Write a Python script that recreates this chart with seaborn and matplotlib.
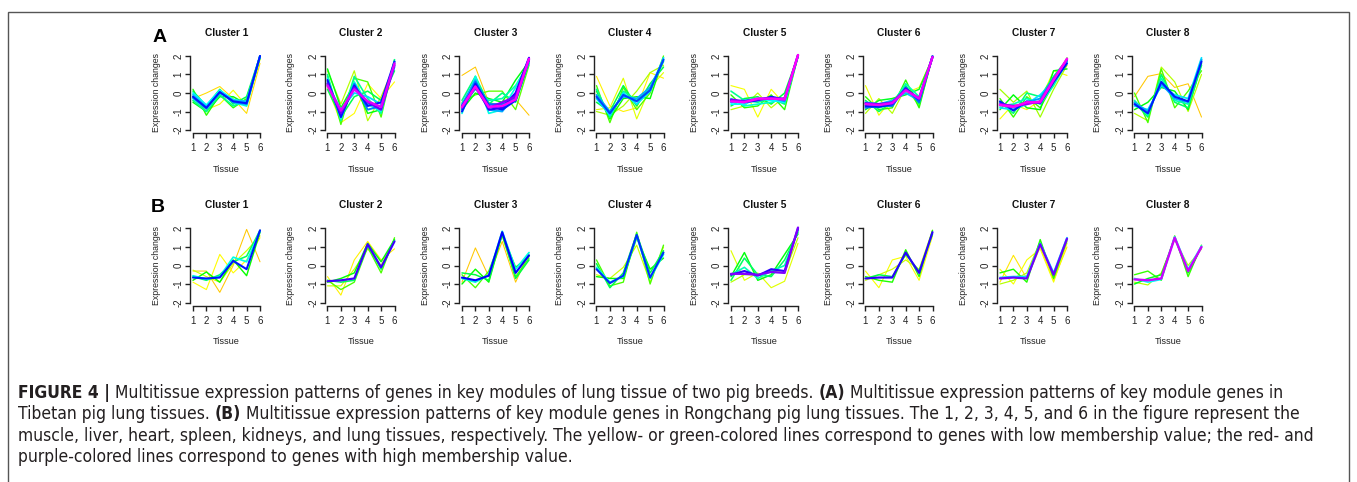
import numpy as np
import matplotlib
matplotlib.use("Agg")
import matplotlib.pyplot as plt
import seaborn as sns
from matplotlib import font_manager
from matplotlib.colors import hsv_to_rgb
from matplotlib.patches import Rectangle

W, H = 1357, 482

tissues = [1, 2, 3, 4, 5, 6]
cluster_names = ["Cluster %d" % i for i in range(1, 9)]
y_ticks = [-2, -1, 0, 1, 2]

# --- (A) Tibetan pig: one profile per gene, membership value per gene ---
A1 = [[-0.3, 0.0, 0.35, -0.3, -1.1, 1.6], [-0.4, -0.9, -0.6, 0.15, -0.7, 1.8],
      [0.2, -1.2, -0.1, -0.8, -0.3, 1.9], [-0.5, -1.0, -0.2, -0.2, -0.6, 1.9],
      [0.1, -0.7, 0.2, -0.6, -0.2, 2.0], [-0.4, -1.0, -0.1, -0.7, -0.4, 1.95],
      [-0.3, -0.85, 0.1, -0.5, -0.7, 2.0], [0.0, -0.65, 0.15, -0.35, -0.5, 2.0],
      [-0.1, -0.75, 0.0, -0.4, -0.45, 2.0], [-0.25, -0.85, 0.05, -0.5, -0.6, 2.0],
      [-0.2, -0.8, 0.05, -0.45, -0.55, 2.0]]
A1_m = [0.02, 0.06, 0.25, 0.3, 0.36, 0.42, 0.5, 0.53, 0.58, 0.62, 0.74]

A2 = [[0.3, -1.6, -1.1, 0.5, -0.3, 0.6], [1.2, -0.6, 1.2, -1.5, -0.2, 1.5],
      [0.9, -1.7, 0.8, 0.6, -1.3, 1.8], [1.3, -0.8, 0.5, -1.1, -0.9, 1.7],
      [0.2, -1.3, -0.2, 0.1, -0.4, 1.2], [1.0, -1.5, 0.9, -0.3, -1.1, 1.8],
      [0.8, -1.4, 0.6, -0.6, -1.0, 1.7], [0.5, -0.9, 0.0, -0.2, -0.6, 1.4],
      [0.6, -1.2, 0.5, -0.9, -0.7, 1.6], [0.7, -1.3, 0.4, -0.7, -0.5, 1.7],
      [0.5, -1.1, 0.3, -0.5, -0.9, 1.5], [0.4, -0.95, 0.2, -0.45, -0.75, 1.6]]
A2_m = [0.05, 0.12, 0.22, 0.3, 0.36, 0.42, 0.5, 0.56, 0.64, 0.74, 0.86, 0.97]

A3 = [[0.95, 1.4, -0.5, -0.7, -0.35, -1.2], [-0.5, -0.1, 0.1, 0.1, -0.9, 1.5],
      [-0.9, 0.0, -0.3, -0.5, 0.7, 1.7], [-0.4, 0.9, -0.6, 0.0, -0.5, 1.6],
      [-0.7, 0.2, -0.4, -0.3, 0.4, 1.6], [-1.1, 0.9, -1.1, -0.9, 0.3, 1.7],
      [-0.6, 0.7, -0.9, -1.0, -0.1, 1.9], [-0.9, 0.6, -0.6, -0.6, -0.3, 1.8],
      [-1.0, 0.5, -0.7, -0.9, -0.4, 1.8], [-0.7, 0.4, -0.9, -0.8, 0.0, 1.9],
      [-0.8, 0.3, -0.8, -0.5, -0.2, 1.8], [-0.75, 0.35, -0.75, -0.7, -0.35, 1.85]]
A3_m = [0.0, 0.2, 0.3, 0.4, 0.45, 0.5, 0.6, 0.66, 0.74, 0.8, 0.88, 1.0]

A4 = [[0.9, -0.7, -1.0, -0.8, 1.1, 0.8], [-0.9, -0.8, 0.8, -1.4, 0.3, 1.1],
      [-1.0, -1.2, -0.7, 0.1, 1.1, 1.5], [0.4, -1.6, 0.3, -0.9, 0.0, 2.0],
      [0.1, -1.4, -0.3, -0.2, -0.3, 1.9], [-0.5, -1.0, 0.4, -0.7, 0.5, 1.4],
      [0.2, -1.3, 0.1, -0.4, 0.2, 1.7], [-0.3, -1.2, 0.0, -0.6, 0.1, 1.9],
      [-0.1, -1.0, -0.2, -0.3, 0.3, 1.8], [-0.2, -1.1, -0.1, -0.45, 0.15, 1.8]]
A4_m = [0.04, 0.08, 0.13, 0.22, 0.28, 0.35, 0.42, 0.55, 0.6, 0.7]

A5 = [[0.4, 0.2, -1.3, 0.2, -0.6, 1.9], [-0.9, -0.7, 0.0, -0.8, -0.2, 2.0],
      [-0.1, -0.8, -0.7, -0.1, -0.9, 2.0], [-0.7, -0.3, -0.2, -0.6, 0.0, 2.0],
      [0.1, -0.4, -0.5, -0.3, -0.6, 2.0], [-0.3, -0.7, -0.6, -0.5, -0.3, 2.0],
      [-0.6, -0.6, -0.3, -0.4, -0.5, 2.0], [-0.5, -0.4, -0.3, -0.25, -0.45, 2.0],
      [-0.4, -0.5, -0.4, -0.2, -0.35, 2.05], [-0.35, -0.45, -0.35, -0.3, -0.3, 2.05],
      [-0.45, -0.5, -0.3, -0.3, -0.35, 2.05]]
A5_m = [0.06, 0.12, 0.25, 0.35, 0.42, 0.48, 0.53, 0.62, 0.74, 0.88, 1.0]

A6 = [[0.4, -1.2, -0.3, 0.0, 0.3, 1.9], [-1.1, -0.3, -1.1, 0.3, -0.7, 1.9],
      [-0.2, -0.9, -0.8, 0.7, -0.8, 2.0], [-0.9, -0.4, -0.3, -0.1, 0.2, 1.9],
      [-0.4, -1.0, -0.5, 0.4, -0.6, 1.95], [-0.7, -0.8, -0.6, 0.5, -0.2, 2.0],
      [-0.5, -0.6, -0.4, 0.0, -0.4, 1.95], [-0.8, -0.7, -0.7, 0.3, -0.5, 2.0],
      [-0.7, -0.75, -0.6, 0.25, -0.35, 1.95], [-0.55, -0.6, -0.5, 0.2, -0.3, 1.95],
      [-0.6, -0.65, -0.55, 0.15, -0.3, 1.95]]
A6_m = [0.07, 0.12, 0.25, 0.32, 0.38, 0.45, 0.58, 0.66, 0.74, 0.86, 0.98]

A7 = [[-1.4, -0.6, -0.9, -0.4, 1.2, 0.95], [0.2, -0.5, 0.1, -1.3, 0.2, 1.5],
      [-0.3, -1.3, -0.2, -0.8, 0.5, 1.9], [-0.9, -0.1, -0.8, -0.9, 1.2, 1.3],
      [-0.5, -1.1, 0.0, -0.2, 0.9, 1.8], [-0.7, -0.6, -0.3, -0.6, 0.4, 1.7],
      [-0.8, -0.9, -0.6, -0.1, 0.6, 1.7], [-0.5, -0.8, -0.5, -0.3, 0.8, 1.75],
      [-0.45, -0.95, -0.45, -0.55, 0.6, 1.6], [-0.6, -0.7, -0.6, -0.45, 0.75, 1.8],
      [-0.65, -0.75, -0.5, -0.5, 0.7, 1.85]]
A7_m = [0.06, 0.14, 0.24, 0.3, 0.4, 0.46, 0.55, 0.62, 0.74, 0.9, 1.0]

A8 = [[-0.2, 0.9, 1.05, 0.3, 0.5, -1.3], [-1.1, -1.5, 1.4, 0.6, -1.0, 1.0],
      [0.0, -1.6, 1.3, -0.8, 0.1, 1.2], [-0.9, -0.5, 0.3, 0.1, -0.9, 1.6],
      [-0.5, -1.3, 1.0, -0.5, -0.8, 1.5], [-0.4, -1.2, 0.8, -0.4, -0.6, 1.8],
      [-0.7, -0.9, 0.4, -0.1, -0.3, 1.9], [-0.5, -1.0, 0.5, -0.3, -0.5, 1.8],
      [-0.6, -1.1, 0.6, -0.2, -0.45, 1.7]]
A8_m = [0.0, 0.12, 0.22, 0.3, 0.38, 0.45, 0.55, 0.6, 0.74]

# --- (B) Rongchang pig ---
B1 = [[-0.3, -0.3, -1.45, 0.0, 1.95, 0.2], [-0.9, -1.3, 0.6, -0.4, 0.3, 1.5],
      [-0.25, -0.6, -0.9, 0.1, 0.8, 1.6], [-0.8, -0.35, -0.9, 0.3, -0.55, 1.8],
      [-0.6, -0.8, -0.5, 0.2, 0.5, 1.9], [-0.55, -0.75, -0.6, 0.45, 0.2, 1.85],
      [-0.65, -0.7, -0.65, 0.25, -0.2, 1.9]]
B1_m = [0.0, 0.05, 0.1, 0.28, 0.38, 0.5, 0.74]

B2 = [[-0.6, -1.6, 0.3, 1.3, 0.3, 0.9], [-1.1, -1.1, -0.2, 0.9, 0.0, 1.4],
      [-0.8, -1.3, -0.9, 1.0, -0.4, 1.5], [-0.9, -0.7, -0.4, 1.2, 0.2, 1.4],
      [-0.8, -0.9, -0.8, 1.1, -0.2, 1.35], [-0.85, -0.8, -0.7, 1.15, -0.1, 1.3]]
B2_m = [0.04, 0.1, 0.22, 0.3, 0.38, 0.82]

B3 = [[-0.9, 0.95, -0.6, 1.3, -0.9, 0.7], [-0.5, -1.2, -0.3, 1.6, -0.6, 0.4],
      [-1.0, -0.2, -0.9, 1.7, -0.1, 0.5], [-0.4, -0.5, -0.8, 1.75, -0.7, 0.3],
      [-0.7, -0.9, -0.5, 1.85, -0.2, 0.7], [-0.65, -0.8, -0.55, 1.8, -0.4, 0.55]]
B3_m = [0.0, 0.22, 0.28, 0.35, 0.5, 0.76]

B4 = [[-0.5, -0.7, -0.1, 1.1, -0.9, 1.0], [0.3, -1.1, -0.9, 1.8, -1.0, 1.1],
      [-0.6, -0.7, -0.7, 1.5, -0.2, 0.4], [0.1, -1.2, -0.4, 1.7, -0.4, 0.8],
      [-0.1, -0.9, -0.6, 1.6, -0.7, 0.6], [-0.2, -0.95, -0.55, 1.65, -0.65, 0.7]]
B4_m = [0.1, 0.22, 0.28, 0.36, 0.5, 0.72]

B5 = [[0.8, -0.8, -0.4, -1.2, -0.85, 1.2], [-0.9, -0.5, -0.5, -0.3, -0.4, 1.5],
      [-0.6, 0.7, -0.8, -0.5, 0.6, 1.7], [-0.8, 0.4, -0.5, -0.6, 0.3, 1.8],
      [-0.5, -0.1, -0.7, -0.3, 0.0, 1.9], [-0.5, -0.3, -0.55, -0.2, -0.3, 2.0],
      [-0.45, -0.45, -0.5, -0.35, -0.4, 2.05]]
B5_m = [0.08, 0.12, 0.3, 0.38, 0.46, 0.8, 0.88]

B6 = [[-0.3, -1.2, 0.3, 0.5, -0.8, 1.6], [-0.8, -0.5, -0.2, 0.3, -0.2, 1.9],
      [-0.6, -0.8, -0.9, 0.85, -0.6, 1.9], [-0.7, -0.5, -0.6, 0.6, -0.3, 1.7],
      [-0.7, -0.65, -0.65, 0.7, -0.4, 1.8]]
B6_m = [0.06, 0.1, 0.26, 0.36, 0.8]

B7 = [[-0.9, 0.55, -0.7, 1.0, -0.8, 1.0], [-0.2, -1.0, 0.3, 0.9, -0.9, 1.2],
      [-1.0, -0.8, -0.4, 1.3, -0.6, 1.3], [-0.4, -0.2, -0.9, 1.4, -0.7, 1.4],
      [-0.65, -0.6, -0.6, 1.2, -0.4, 1.5], [-0.7, -0.65, -0.7, 1.15, -0.5, 1.45]]
B7_m = [0.03, 0.06, 0.12, 0.26, 0.56, 0.86]

B8 = [[-0.9, -1.05, -0.4, 1.4, 0.0, 0.9], [-0.5, -0.3, -0.8, 1.6, -0.6, 1.1],
      [-1.0, -0.7, -0.5, 1.5, -0.4, 1.0], [-0.7, -0.9, -0.75, 1.55, -0.2, 1.05],
      [-0.75, -0.8, -0.7, 1.5, -0.3, 1.0]]
B8_m = [0.12, 0.24, 0.32, 0.52, 0.95]

rows = [
    ("A", [(A1, A1_m), (A2, A2_m), (A3, A3_m), (A4, A4_m),
           (A5, A5_m), (A6, A6_m), (A7, A7_m), (A8, A8_m)]),
    ("B", [(B1, B1_m), (B2, B2_m), (B3, B3_m), (B4, B4_m),
           (B5, B5_m), (B6, B6_m), (B7, B7_m), (B8, B8_m)]),
]

caption_lines = [
    [("FIGURE 4 |", True), (" Multitissue expression patterns of genes in key modules of lung tissue of two pig breeds. ", False),
     ("(A)", True), (" Multitissue expression patterns of key module genes in", False)],
    [("Tibetan pig lung tissues. ", False), ("(B)", True),
     (" Multitissue expression patterns of key module genes in Rongchang pig lung tissues. The 1, 2, 3, 4, 5, and 6 in the figure represent the", False)],
    [("muscle, liver, heart, spleen, kidneys, and lung tissues, respectively. The yellow- or green-colored lines correspond to genes with low membership value; the red- and", False)],
    [("purple-colored lines correspond to genes with high membership value.", False)],
]

sns.set_style("white")
plt.rcParams["font.family"] = ["Liberation Sans", "DejaVu Sans"]
plt.rcParams["axes.unicode_minus"] = False

# the caption font in the reference is a condensed sans
installed = {f.name for f in font_manager.fontManager.ttflist}
cap_stretch = "normal"
if "Liberation Sans Narrow" in installed:
    cap_family = ["Liberation Sans Narrow", "DejaVu Sans"]
elif "DejaVu Sans" in installed and any(
        f.name == "DejaVu Sans" and f.stretch == "condensed" for f in font_manager.fontManager.ttflist):
    cap_family = ["DejaVu Sans"]
    cap_stretch = "condensed"
else:
    cap_family = ["Liberation Sans", "DejaVu Sans"]


def member_color(m):
    # rainbow from gold/yellow (low membership) to magenta (high)
    return hsv_to_rgb([0.13 + m * (0.835 - 0.13), 1.0, 1.0])


def fx(x):
    return x / W


def fy(y):
    return 1 - y / H


fig = plt.figure(figsize=(W / 100, H / 100), dpi=100)

row_top = [53, 225.5]
row_bot = [133, 305.5]
title_y = [33, 205]
tissue_y = [169, 341]
letter_pos = [(160, 38), (158, 208)]

for r, (letter, panels) in enumerate(rows):
    for i, (profiles, members) in enumerate(panels):
        left = 190.3 + 134.5 * i
        width = 72.4
        ax = fig.add_axes([fx(left), fy(row_bot[r]), width / W, (row_bot[r] - row_top[r]) / H])
        for k in np.argsort(members):
            m = members[k]
            sns.lineplot(x=tissues, y=profiles[k], ax=ax, color=member_color(m),
                         lw=0.75 + 1.0 * m, legend=False)
        ax.set_xlim(0.8, 6.2)
        ax.set_ylim(-2.16, 2.16)
        ax.set_xticks(tissues)
        ax.set_yticks(y_ticks)
        ax.set_yticklabels([str(t) for t in y_ticks], rotation=90, va="center")
        ax.set_xlabel("")
        ax.set_ylabel("")
        for s in ["top", "right"]:
            ax.spines[s].set_visible(False)
        for s in ["left", "bottom"]:
            ax.spines[s].set_color("#222222")
            ax.spines[s].set_linewidth(1.0)
        ax.spines["left"].set_bounds(-2, 2)
        ax.spines["bottom"].set_bounds(1, 6)
        ax.tick_params(direction="out", length=3.5, width=1.0, labelsize=7.0,
                       colors="#222222", left=True, bottom=True)
        ax.tick_params(axis="x", pad=4.0)
        ax.tick_params(axis="y", pad=1.2)
        ax.patch.set_alpha(0)

        cx = left + width / 2
        fig.text(fx(cx), fy(title_y[r]), cluster_names[i], ha="center", va="center",
                 fontsize=7.3, fontweight="bold", color="#111111")
        fig.text(fx(cx), fy(tissue_y[r]), "Tissue", ha="center", va="center",
                 fontsize=6.6, color="#222222")
        fig.text(fx(left - 34), fy((row_top[r] + row_bot[r]) / 2), "Expression changes",
                 ha="center", va="center", rotation=90, fontsize=6.3, color="#222222")
    lx, ly = letter_pos[r]
    fig.text(fx(lx), fy(ly), letter, ha="center", va="center", fontsize=14,
             fontweight="bold", color="black")

# frame around figure + caption
fig.patches.append(Rectangle((fx(8), -0.05), (1349 - 8) / W, fy(12) + 0.05,
                             transform=fig.transFigure, fill=False,
                             edgecolor="#555555", lw=1.0))

# caption, bold pieces placed one after another
renderer = fig.canvas.get_renderer()


def line_width(segs, size):
    total = 0
    for txt, bold in segs:
        t = fig.text(0, 0, txt, fontsize=size, family=cap_family, fontstretch=cap_stretch,
                     fontweight="bold" if bold else "normal")
        total += t.get_window_extent(renderer).width
        t.remove()
    return total


cap_size = 11.0 * (1281 - 18) / line_width(caption_lines[0], 11.0)
cap_size = min(cap_size, 12.8)

cap_y = [393, 414, 436, 457]
for segs, y in zip(caption_lines, cap_y):
    x = 18
    for txt, bold in segs:
        t = fig.text(fx(x), fy(y), txt, fontsize=cap_size, va="center", ha="left",
                     family=cap_family, fontstretch=cap_stretch,
                     fontweight="bold" if bold else "normal", color="#231f20")
        x += t.get_window_extent(renderer).width

fig.savefig("out.png", dpi=100)
